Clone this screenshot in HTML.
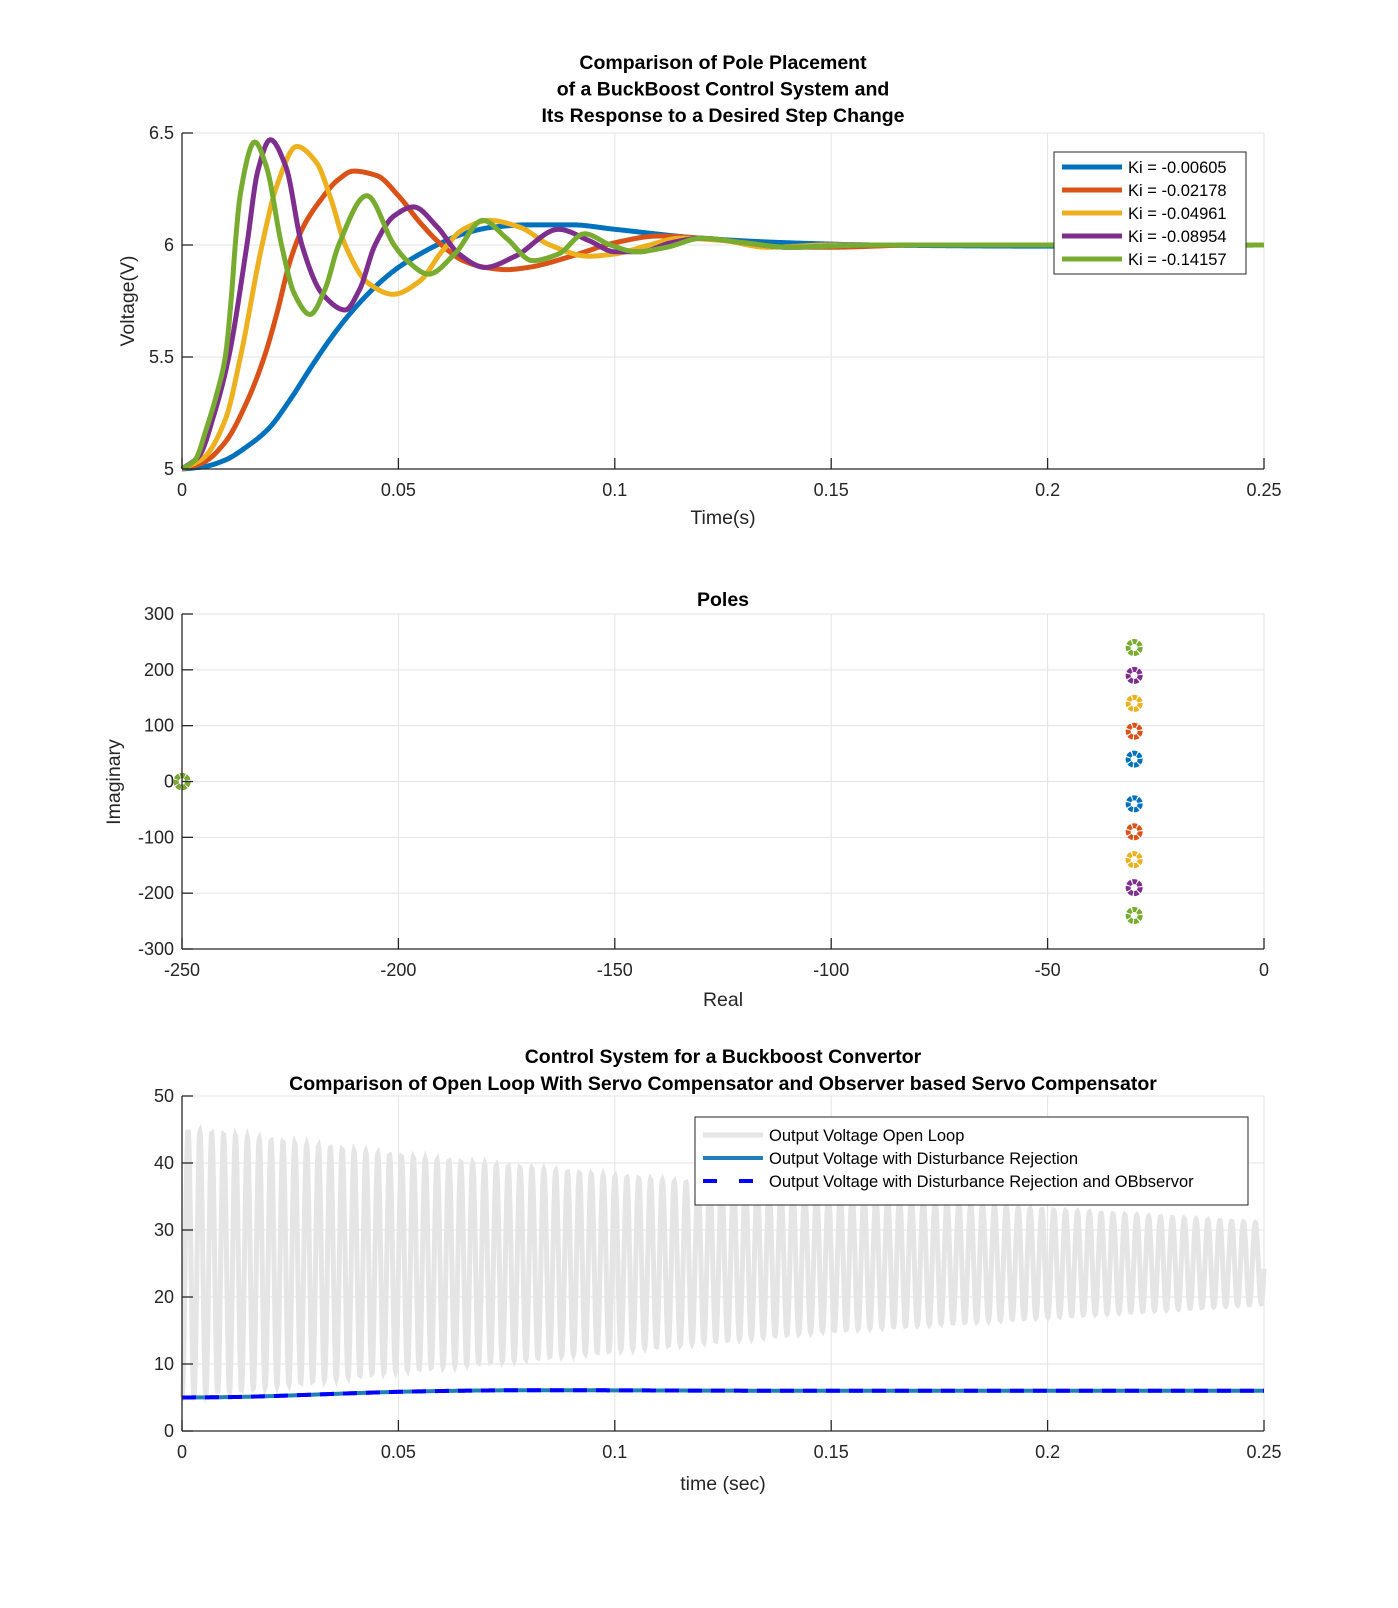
<!DOCTYPE html>
<html><head><meta charset="utf-8"><style>
body{margin:0;background:#fff}
svg{display:block;font-family:"Liberation Sans",Arial,sans-serif}
</style></head><body>
<svg id="fig" width="1398" height="1608" viewBox="0 0 1398 1608">
<rect width="1398" height="1608" fill="#fff"/>
</svg>
<script>
// ---- Chart 1 data: step responses ----
const kiLabels = ["Ki = -0.00605","Ki = -0.02178","Ki = -0.04961","Ki = -0.08954","Ki = -0.14157"];
const kiColors = ["#0072BD","#D95319","#EDB120","#7E2F8E","#77AC30"];
const stepBlue = [[0,5],[0.005,5.01],[0.01,5.04],[0.015,5.1],[0.02,5.18],[0.025,5.31],[0.03,5.46],[0.035,5.6],[0.04,5.72],[0.045,5.82],[0.05,5.9],[0.055,5.96],[0.06,6.01],[0.065,6.05],[0.072,6.08],[0.08,6.09],[0.09,6.09],[0.1,6.07],[0.12,6.03],[0.14,6.01],[0.16,6.0],[0.2,5.995],[0.25,6.0]];
const stepRed = [[0,5],[0.005,5.03],[0.01,5.12],[0.015,5.3],[0.019,5.5],[0.022,5.7],[0.025,5.93],[0.028,6.08],[0.032,6.2],[0.036,6.29],[0.0396,6.33],[0.045,6.31],[0.05,6.22],[0.055,6.1],[0.06,6.0],[0.065,5.93],[0.07,5.9],[0.075,5.89],[0.08,5.9],[0.09,5.95],[0.1,6.01],[0.11,6.04],[0.12,6.03],[0.13,6.01],[0.14,5.99],[0.15,5.99],[0.17,6.0],[0.25,6.0]];
const stepYellow = [[0,5],[0.005,5.05],[0.01,5.22],[0.0135,5.5],[0.0185,6.0],[0.022,6.27],[0.0265,6.44],[0.031,6.37],[0.0345,6.2],[0.0377,6.0],[0.043,5.83],[0.0488,5.78],[0.055,5.84],[0.06,5.97],[0.065,6.07],[0.071,6.11],[0.078,6.08],[0.085,6.0],[0.094,5.95],[0.1,5.96],[0.108,6.0],[0.115,6.03],[0.125,6.02],[0.135,5.99],[0.15,6.0],[0.25,6.0]];
const stepPurple = [[0,5],[0.004,5.06],[0.0075,5.25],[0.0108,5.5],[0.015,6.0],[0.0175,6.33],[0.0204,6.47],[0.024,6.35],[0.0277,6.0],[0.0325,5.78],[0.0377,5.71],[0.041,5.8],[0.0446,6.0],[0.049,6.13],[0.0535,6.17],[0.059,6.08],[0.064,5.96],[0.07,5.9],[0.077,5.95],[0.087,6.07],[0.094,6.02],[0.1,5.97],[0.106,5.97],[0.113,6.01],[0.12,6.03],[0.13,6.01],[0.14,5.99],[0.16,6.0],[0.25,6.0]];
const stepGreen = [[0,5],[0.003,5.04],[0.0058,5.19],[0.0081,5.34],[0.01,5.5],[0.0115,5.79],[0.0123,6.0],[0.0135,6.23],[0.0168,6.46],[0.0195,6.35],[0.023,6.0],[0.026,5.78],[0.0296,5.69],[0.033,5.8],[0.0362,6.0],[0.0427,6.22],[0.049,6.0],[0.052,5.93],[0.057,5.87],[0.063,5.96],[0.0695,6.11],[0.075,6.03],[0.081,5.93],[0.087,5.96],[0.093,6.05],[0.099,6.0],[0.105,5.97],[0.112,5.99],[0.12,6.03],[0.13,6.01],[0.14,5.99],[0.16,6.0],[0.25,6.0]];
const t1Ticks = [0,0.05,0.1,0.15,0.2,0.25];
const v1Ticks = [5,5.5,6,6.5];
// ---- Chart 2 data: poles ----
const poleReal = [-30,-30,-30,-30,-30];
const poleImag = [40,90,140,190,240];
const poleOriginReal = -250;
const reTicks = [-250,-200,-150,-100,-50,0];
const imTicks = [-300,-200,-100,0,100,200,300];
// ---- Chart 3 data ----
const olTimes = [0,0.05,0.1,0.15,0.2,0.25];
const olUpper = [45,41,38,35.3,33,31];
const olLower = [5,9,12,15,17,19];
const olPeriod = 0.00274;
const olPhase = 0.0014;
const clCurve = [[0,5],[0.01,5.05],[0.02,5.2],[0.03,5.42],[0.04,5.65],[0.05,5.85],[0.06,5.97],[0.07,6.05],[0.08,6.09],[0.1,6.07],[0.12,6.03],[0.15,6.0],[0.25,6.0]];
const t3Ticks = [0,0.05,0.1,0.15,0.2,0.25];
const v3Ticks = [0,10,20,30,40,50];
const olLegend = ["Output Voltage Open Loop","Output Voltage with Disturbance Rejection","Output Voltage with Disturbance Rejection and OBbservor"];

const NS="http://www.w3.org/2000/svg";
const svg=document.getElementById('fig');
function el(tag,attrs,parent){const e=document.createElementNS(NS,tag);for(const k in attrs)e.setAttribute(k,attrs[k]);(parent||svg).appendChild(e);return e;}
function txt(s,attrs,parent){const e=el('text',attrs,parent);e.textContent=s;return e;}
function lin(d0,d1,r0,r1){return v=>r0+(v-d0)/(d1-d0)*(r1-r0);}
// monotone cubic Hermite (Fritsch-Carlson) sampled in data space
function smoothPath(data,xs,ys){
  const n=data.length,x=data.map(p=>p[0]),y=data.map(p=>p[1]);
  const h=[],dl=[];for(let i=0;i<n-1;i++){h.push(x[i+1]-x[i]);dl.push((y[i+1]-y[i])/h[i]);}
  const m=new Array(n);m[0]=dl[0];m[n-1]=dl[n-2];
  for(let i=1;i<n-1;i++){
    if(dl[i-1]*dl[i]<=0)m[i]=0;
    else{const w1=2*h[i]+h[i-1],w2=h[i]+2*h[i-1];m[i]=(w1+w2)/(w1/dl[i-1]+w2/dl[i]);}
  }
  let d="M"+xs(x[0]).toFixed(2)+","+ys(y[0]).toFixed(2);
  for(let i=0;i<n-1;i++){
    const steps=Math.max(4,Math.ceil((xs(x[i+1])-xs(x[i]))/1.5));
    for(let s=1;s<=steps;s++){const u=s/steps,u2=u*u,u3=u2*u;
      const v=(2*u3-3*u2+1)*y[i]+(u3-2*u2+u)*h[i]*m[i]+(-2*u3+3*u2)*y[i+1]+(u3-u2)*h[i]*m[i+1];
      d+="L"+xs(x[i]+u*h[i]).toFixed(2)+","+ys(v).toFixed(2);}
  }
  return d;
}
const L=182,R=1264;
function axes(g,top,bot,xs,ys,xT,yT,name){
  yT.forEach(v=>{const y=ys(v);
    const gl=el('line',{x1:L,x2:R,y1:y,y2:y,stroke:'#e3e3e3','stroke-width':1},g);
    });
  xT.forEach(v=>{const x=xs(v);
    const gl=el('line',{x1:x,x2:x,y1:top,y2:bot,stroke:'#e3e3e3','stroke-width':1},g);
    });
  el('line',{x1:L,x2:R,y1:top,y2:top,stroke:'#e3e3e3'},g);
  el('line',{x1:R,x2:R,y1:top,y2:bot,stroke:'#e3e3e3'},g);
}
function frame(g,top,bot,xs,ys,xT,yT,name){
  el('line',{x1:L,x2:R,y1:bot,y2:bot,stroke:'#262626','stroke-width':1.3},g);
  el('line',{x1:L,x2:L,y1:top,y2:bot,stroke:'#262626','stroke-width':1.3},g);
  xT.forEach(v=>{const x=xs(v);el('line',{x1:x,x2:x,y1:bot,y2:bot-11,stroke:'#262626','stroke-width':1.3},g);
    const t=txt(String(v),{x:x,y:bot+27,'text-anchor':'middle','font-size':18,fill:'#262626'},g);
    });
  yT.forEach(v=>{const y=ys(v);el('line',{x1:L,x2:L+11,y1:y,y2:y,stroke:'#262626','stroke-width':1.3},g);
    const t=txt(String(v),{x:L-8,y:y+6,'text-anchor':'end','font-size':18,fill:'#262626'},g);
    });
}

// ===== Chart 1 =====
(function(){
  const g=el('g',{});
  const top=133,bot=469;const xs=lin(0,0.25,L,R),ys=lin(5,6.5,bot,top);
  axes(g,top,bot,xs,ys,t1Ticks,v1Ticks,'step');
  [stepBlue,stepRed,stepYellow,stepPurple,stepGreen].forEach((s,i)=>{
    const p=el('path',{d:smoothPath(s,xs,ys),fill:'none',stroke:kiColors[i],'stroke-width':5,'stroke-linejoin':'round'},g);
    
  });
  frame(g,top,bot,xs,ys,t1Ticks,v1Ticks,'step');
  ["Comparison of Pole Placement","of a BuckBoost Control System and","Its Response to a Desired Step Change"].forEach((s,i)=>{
    const t=txt(s,{x:723,y:69+i*26.5,'text-anchor':'middle','font-size':19.5,'font-weight':'bold',fill:'#000'},g);
    });
  const xl=txt("Time(s)",{x:723,y:524,'text-anchor':'middle','font-size':19.5,fill:'#262626'},g);
  
  const yl=txt("Voltage(V)",{x:0,y:0,'text-anchor':'middle','font-size':19.5,fill:'#262626',transform:'translate(134,301) rotate(-90)'},g);
  
  const lg=el('g',{},g);
  el('rect',{x:1054,y:152,width:192,height:122,fill:'#fff',stroke:'#262626','stroke-width':1},lg);
  kiLabels.forEach((s,i)=>{const y=167+i*23;
    el('line',{x1:1062,x2:1122,y1:y,y2:y,stroke:kiColors[i],'stroke-width':5},lg);
    const t=txt(s,{x:1128,y:y+6,'font-size':16.5,fill:'#000'},lg);
    });
})();

// ===== Chart 2 =====
(function(){
  const g=el('g',{});
  const top=614,bot=949;const xs=lin(-250,0,L,R),ys=lin(-300,300,bot,top);
  axes(g,top,bot,xs,ys,reTicks,imTicks,'poles');
  function marker(x,y,c,name){
    const m=el('circle',{cx:x,cy:y,r:6,fill:'none',stroke:c,'stroke-width':5,'stroke-dasharray':'4.2 1.1'},g);
    
  }
  kiColors.forEach((c,i)=>marker(xs(poleOriginReal),ys(0),c,'pole-origin-'+(i+1)));
  kiColors.forEach((c,i)=>{marker(xs(poleReal[i]),ys(poleImag[i]),c,'pole-upper-'+(i+1));marker(xs(poleReal[i]),ys(-poleImag[i]),c,'pole-lower-'+(i+1));});
  frame(g,top,bot,xs,ys,reTicks,imTicks,'poles');
  const t=txt("Poles",{x:723,y:606,'text-anchor':'middle','font-size':19.5,'font-weight':'bold',fill:'#000'},g);
  
  const xl=txt("Real",{x:723,y:1006,'text-anchor':'middle','font-size':19.5,fill:'#262626'},g);
  
  const yl=txt("Imaginary",{x:0,y:0,'text-anchor':'middle','font-size':19.5,fill:'#262626',transform:'translate(120,782) rotate(-90)'},g);
  
})();

// ===== Chart 3 =====
(function(){
  const g=el('g',{});
  const top=1096,bot=1431;const xs=lin(0,0.25,L,R),ys=lin(0,50,bot,top);
  axes(g,top,bot,xs,ys,t3Ticks,v3Ticks,'control');
  function interp(arr,t){for(let i=0;i<olTimes.length-1;i++){if(t<=olTimes[i+1]){const f=(t-olTimes[i])/(olTimes[i+1]-olTimes[i]);return arr[i]+f*(arr[i+1]-arr[i]);}}return arr[arr.length-1];}
  let d="";const N=5000;
  for(let k=0;k<=N;k++){const t=0.25*k/N;const u=interp(olUpper,t),lo=interp(olLower,t);
    const v=(u+lo)/2+(u-lo)/2*Math.cos(2*Math.PI*(t-olPhase)/olPeriod);
    d+=(k?"L":"M")+xs(t).toFixed(2)+","+ys(v).toFixed(2);}
  const ol=el('path',{d:d,fill:'none',stroke:'#e5e5e5','stroke-width':5},g);
  
  const cd=smoothPath(clCurve,xs,ys);
  const cl=el('path',{d:cd,fill:'none',stroke:'#1f7fb8','stroke-width':4},g);
  
  const ob=el('path',{d:cd,fill:'none',stroke:'#0000ff','stroke-width':4,'stroke-dasharray':'14 9'},g);
  
  frame(g,top,bot,xs,ys,t3Ticks,v3Ticks,'control');
  ["Control System for a Buckboost Convertor","Comparison of Open Loop With Servo Compensator and Observer based Servo Compensator"].forEach((s,i)=>{
    const t=txt(s,{x:723,y:1063+i*27,'text-anchor':'middle','font-size':19.5,'font-weight':'bold',fill:'#000'},g);
    });
  const xl=txt("time (sec)",{x:723,y:1490,'text-anchor':'middle','font-size':19.5,fill:'#262626'},g);
  
  const lg=el('g',{},g);
  el('rect',{x:695,y:1117,width:553,height:88,fill:'#fff',stroke:'#262626','stroke-width':1},lg);
  const styles=[{stroke:'#e5e5e5','stroke-width':5},{stroke:'#1f7fb8','stroke-width':4},{stroke:'#0000ff','stroke-width':4,'stroke-dasharray':'14 22'}];
  olLegend.forEach((s,i)=>{const y=1135+i*23;
    el('line',Object.assign({x1:703,x2:763,y1:y,y2:y},styles[i]),lg);
    const t=txt(s,{x:769,y:y+6,'font-size':16.5,fill:'#000'},lg);
    });
})();
</script>
</body></html>
